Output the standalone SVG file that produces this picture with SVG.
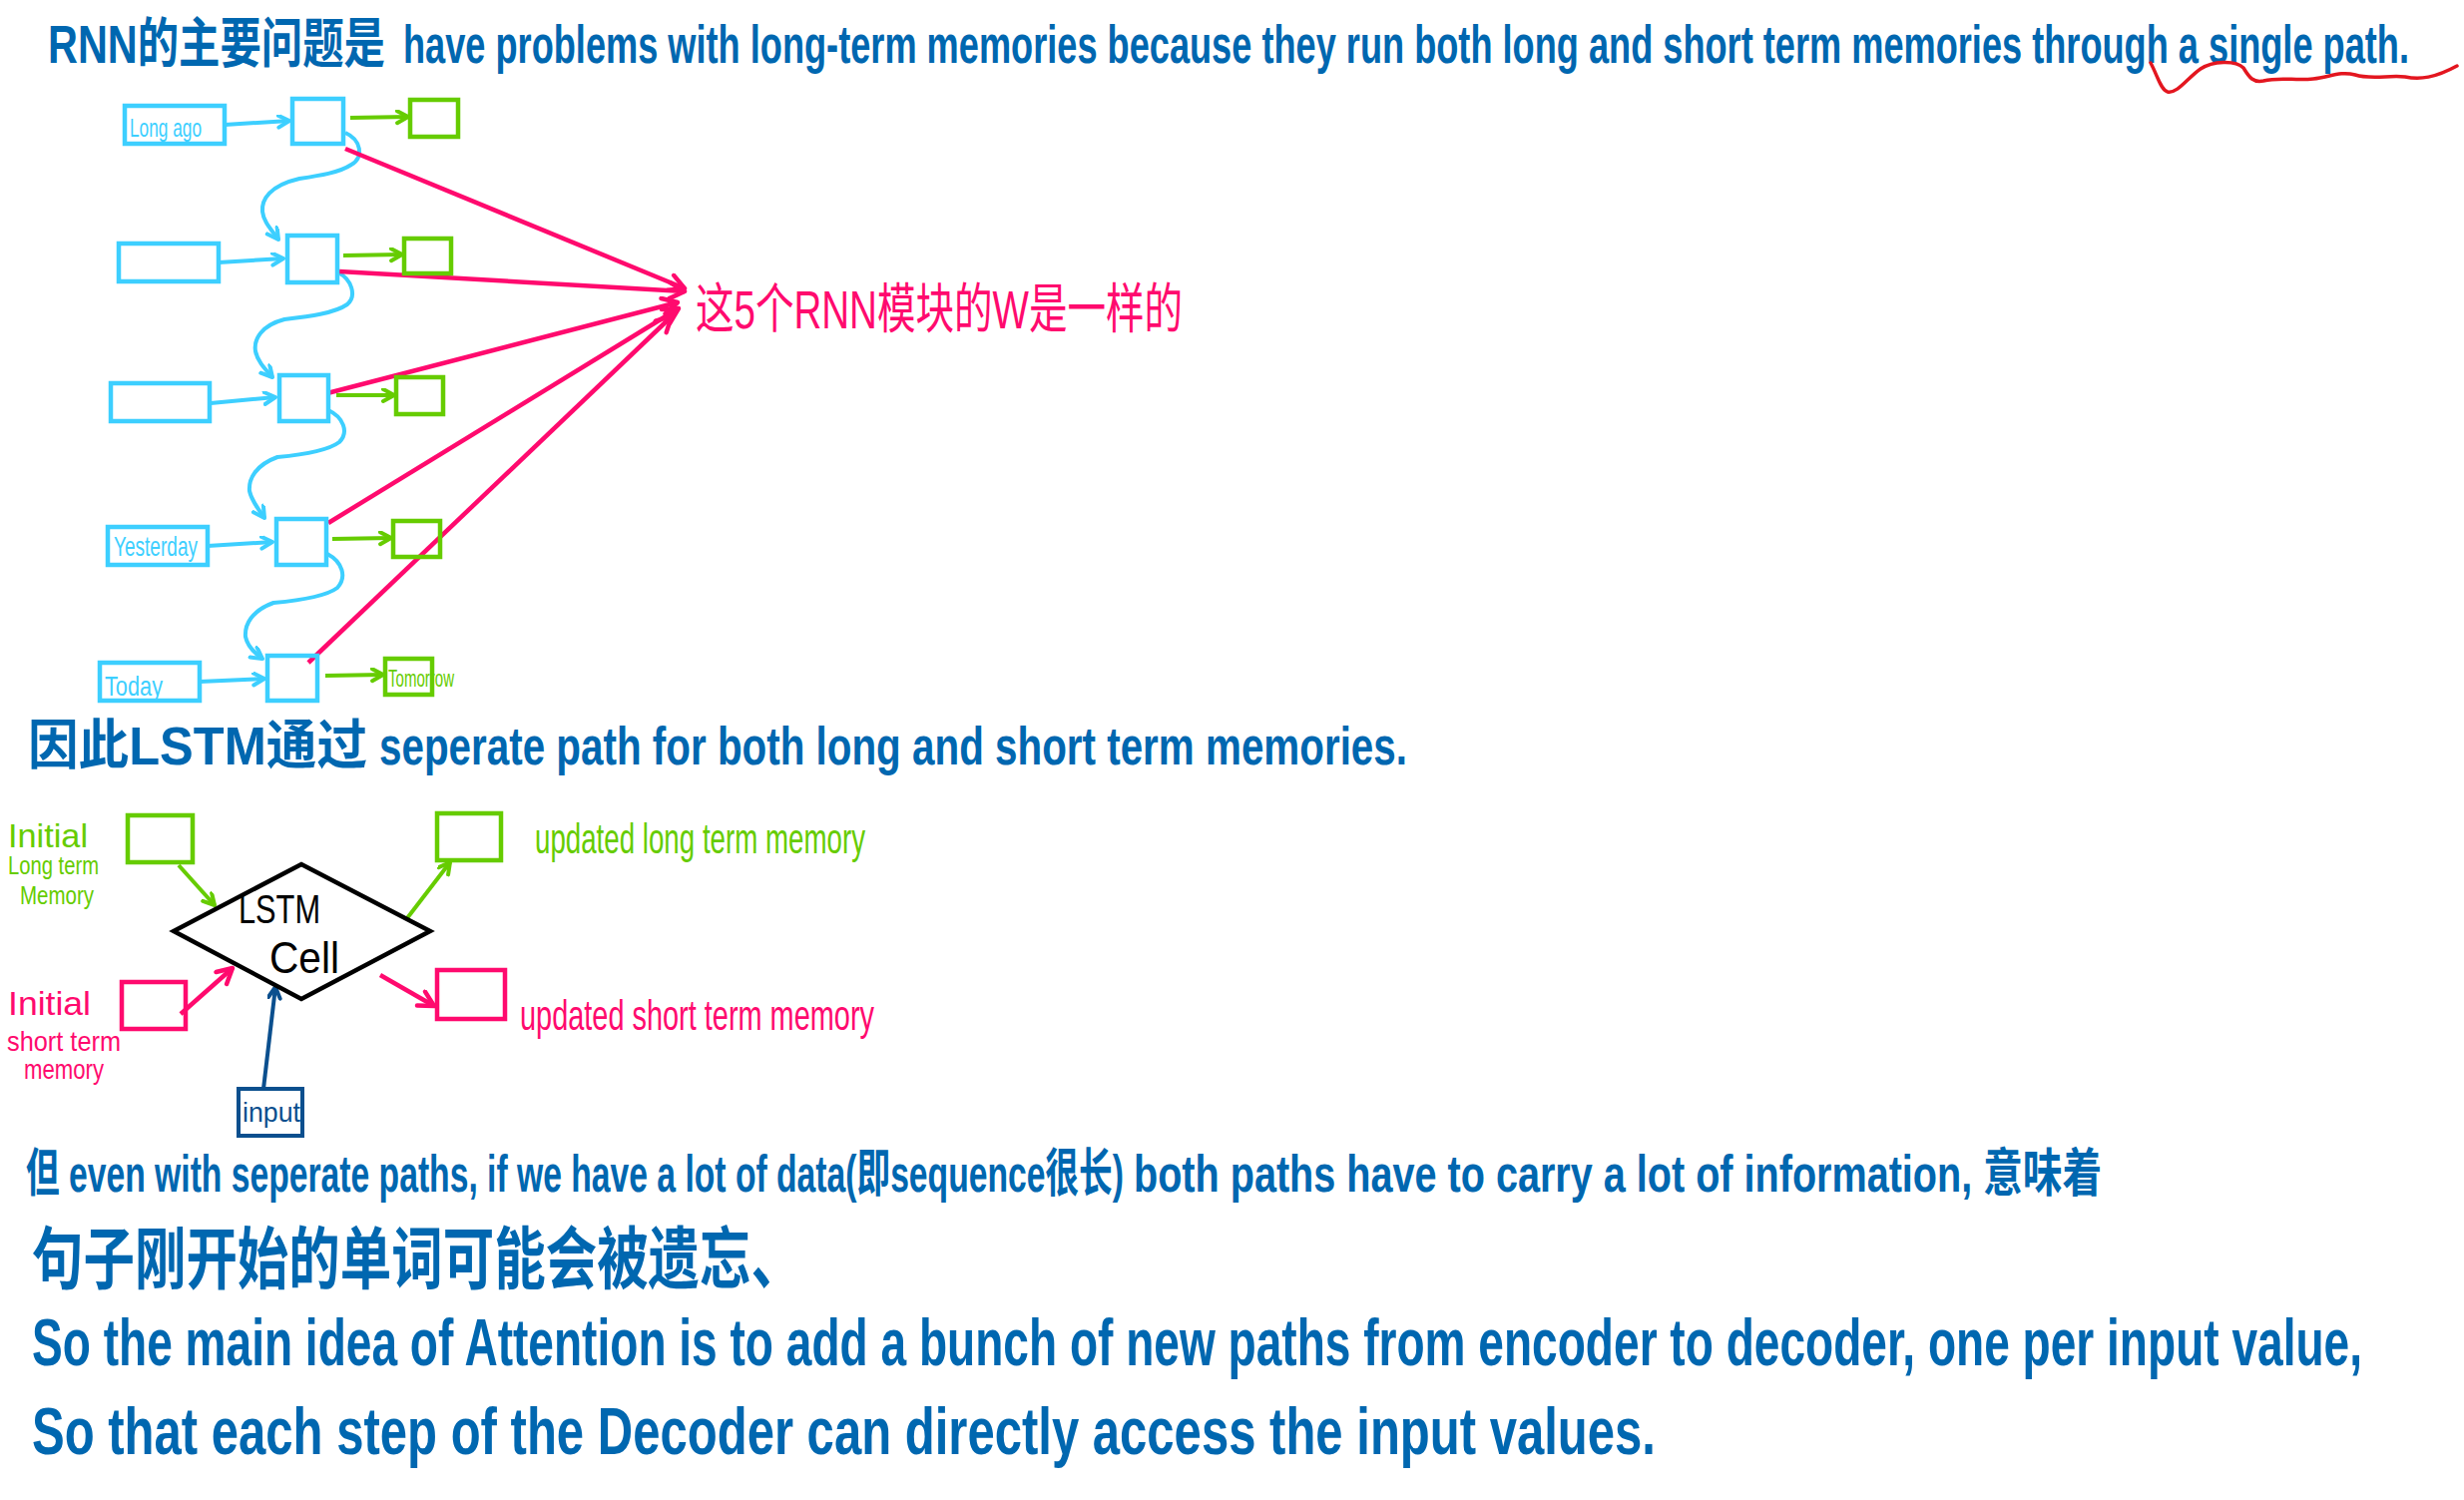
<svg xmlns="http://www.w3.org/2000/svg" width="2469" height="1503" viewBox="0 0 2469 1503">
<style>
.bg{fill:#ffffff}
.t{font-family:"Liberation Sans Narrow","Liberation Sans","Noto Sans CJK SC",sans-serif}
.blue{fill:#0067b0;font-weight:bold}
.pinkT{fill:#ff0a6e}
.greenT{fill:#66cc00}
.cyanT{fill:#3dcfff}
.blk{fill:#000000}
.dbT{fill:#0b4f8e}
.cy{fill:none;stroke:#3dcfff;stroke-width:4.5}
.gr{fill:none;stroke:#66cc00;stroke-width:4.5}
.pk{fill:none;stroke:#ff0a6e;stroke-width:4.5}
.db{fill:none;stroke:#0b4f8e;stroke-width:4}
.dia{fill:none;stroke:#000000;stroke-width:4.5;stroke-linejoin:miter}
.cyl{fill:none;stroke:#3dcfff;stroke-width:4}
.grl{fill:none;stroke:#66cc00;stroke-width:4}
.pkl{fill:none;stroke:#ff0a6e;stroke-width:4.5}
.dbl{fill:none;stroke:#0b4f8e;stroke-width:4}
</style>
<defs>
<marker id="mc" markerUnits="userSpaceOnUse" markerWidth="16" markerHeight="16" refX="13" refY="7" orient="auto"><path d="M2,1 L13,7 L2,13" fill="none" stroke="#3dcfff" stroke-width="4" stroke-linecap="round" stroke-linejoin="round"/></marker>
<marker id="mg" markerUnits="userSpaceOnUse" markerWidth="16" markerHeight="16" refX="13" refY="7" orient="auto"><path d="M2,1 L13,7 L2,13" fill="none" stroke="#66cc00" stroke-width="4" stroke-linecap="round" stroke-linejoin="round"/></marker>
<marker id="mp" markerUnits="userSpaceOnUse" markerWidth="22" markerHeight="22" refX="18" refY="10" orient="auto"><path d="M3,2 L18,10 L3,18" fill="none" stroke="#ff0a6e" stroke-width="4.5" stroke-linecap="round" stroke-linejoin="round"/></marker>
<marker id="md" markerUnits="userSpaceOnUse" markerWidth="16" markerHeight="16" refX="13" refY="7" orient="auto"><path d="M2,1 L13,7 L2,13" fill="none" stroke="#0b4f8e" stroke-width="4" stroke-linecap="round" stroke-linejoin="round"/></marker>
</defs>
<rect class="bg" x="0" y="0" width="2469" height="1503"/>

<g id="text-lines">
<text class="t blue" x="48" y="63" font-size="54" textLength="338" lengthAdjust="spacingAndGlyphs">RNN的主要问题是</text>
<text class="t blue" x="404" y="63" font-size="54" textLength="2010" lengthAdjust="spacingAndGlyphs">have problems with long-term memories because they run both long and short term memories through a single path.</text>
<path d="M2155,63 C2162,76 2165,90 2172,92 C2182,94 2192,78 2205,69 C2217,61 2240,60 2248,68 C2254,78 2258,83 2268,81 C2285,77 2300,81 2318,79 C2335,77 2345,71 2360,75 C2375,80 2395,75 2410,77 C2425,80 2440,78 2462,66" fill="none" stroke="#e3161f" stroke-width="3.5" stroke-linecap="round"/>

<text class="t blue" x="28" y="766" font-size="54" textLength="340" lengthAdjust="spacingAndGlyphs">因此LSTM通过</text>
<text class="t blue" x="380" y="766" font-size="54" textLength="1030" lengthAdjust="spacingAndGlyphs">seperate path for both long and short term memories.</text>

<text class="t blue" x="26" y="1194" font-size="52" textLength="1100" lengthAdjust="spacingAndGlyphs">但 even with seperate paths, if we have a lot of data(即sequence很长)</text>
<text class="t blue" x="1136" y="1194" font-size="52" textLength="970" lengthAdjust="spacingAndGlyphs">both paths have to carry a lot of information, 意味着</text>

<text class="t blue" x="32" y="1286" font-size="68" textLength="772" lengthAdjust="spacingAndGlyphs">句子刚开始的单词可能会被遗忘、</text>

<text class="t blue" x="32" y="1368" font-size="66" textLength="2335" lengthAdjust="spacingAndGlyphs">So the main idea of Attention is to add a bunch of new paths from encoder to decoder, one per input value,</text>

<text class="t blue" x="32" y="1457" font-size="66" textLength="1627" lengthAdjust="spacingAndGlyphs">So that each step of the Decoder can directly access the input values.</text>
</g>

<g id="connectors">
<line class="cyl" x1="225" y1="125" x2="290" y2="121" marker-end="url(#mc)"/>
<line class="cyl" x1="219" y1="263" x2="284" y2="259" marker-end="url(#mc)"/>
<line class="cyl" x1="211" y1="404" x2="276" y2="398" marker-end="url(#mc)"/>
<line class="cyl" x1="208" y1="547" x2="273" y2="543" marker-end="url(#mc)"/>
<line class="cyl" x1="200" y1="683" x2="265" y2="680" marker-end="url(#mc)"/>
<path class="cyl" d="M346,133 C362,140 365,158 352,165 C340,173 320,176 300,179 C270,186 262,200 263,212 C264,222 272,230 279,240" marker-end="url(#mc)"/>
<path class="cyl" d="M339,273 C352,280 358,296 348,305 C335,314 310,317 285,320 C262,326 254,340 256,352 C258,362 266,370 273,378" marker-end="url(#mc)"/>
<path class="cyl" d="M329,411 C344,418 350,433 340,443 C328,452 300,456 278,458 C256,466 249,480 250,492 C252,502 259,510 265,519" marker-end="url(#mc)"/>
<path class="cyl" d="M328,555 C343,563 348,578 338,589 C326,598 296,602 274,604 C252,612 245,626 246,638 C248,648 256,655 263,660" marker-end="url(#mc)"/>
<line class="grl" x1="351" y1="118" x2="409" y2="117" marker-end="url(#mg)"/>
<line class="grl" x1="344" y1="256" x2="403" y2="255" marker-end="url(#mg)"/>
<line class="grl" x1="337" y1="396" x2="395" y2="396" marker-end="url(#mg)"/>
<line class="grl" x1="333" y1="540" x2="392" y2="539" marker-end="url(#mg)"/>
<line class="grl" x1="326" y1="677" x2="384" y2="676" marker-end="url(#mg)"/>
<line class="pkl" x1="346" y1="149" x2="686" y2="289" marker-end="url(#mp)"/>
<line class="pkl" x1="340" y1="272" x2="686" y2="292" marker-end="url(#mp)"/>
<line class="pkl" x1="328" y1="394" x2="679" y2="303" marker-end="url(#mp)"/>
<line class="pkl" x1="329" y1="524" x2="680" y2="309" marker-end="url(#mp)"/>
<line class="pkl" x1="309" y1="664" x2="673" y2="317" marker-end="url(#mp)"/>
<line class="grl" x1="179" y1="867" x2="215" y2="907" marker-end="url(#mg)"/>
<line class="grl" x1="408" y1="920" x2="451" y2="864" marker-end="url(#mg)"/>
<line class="pkl" x1="181" y1="1016" x2="233" y2="970" marker-end="url(#mp)"/>
<line class="pkl" x1="381" y1="977" x2="435" y2="1008" marker-end="url(#mp)"/>
<line class="dbl" x1="264" y1="1091" x2="276" y2="989" marker-end="url(#md)"/>
</g>

<g id="rnn-in-1"><rect class="cy" x="125" y="106" width="100" height="38"/><text class="t cyanT" x="130" y="137" font-size="26" textLength="72" lengthAdjust="spacingAndGlyphs">Long ago</text></g>
<g id="rnn-in-2"><rect class="cy" x="119" y="244" width="100" height="38"/></g>
<g id="rnn-in-3"><rect class="cy" x="111" y="384" width="99" height="38"/></g>
<g id="rnn-in-4"><rect class="cy" x="108" y="528" width="100" height="38"/><text class="t cyanT" x="114" y="557" font-size="28" textLength="84" lengthAdjust="spacingAndGlyphs">Yesterday</text></g>
<g id="rnn-in-5"><rect class="cy" x="100" y="664" width="100" height="38"/><text class="t cyanT" x="105" y="697" font-size="28" textLength="58" lengthAdjust="spacingAndGlyphs">Today</text></g>

<g id="rnn-h-1"><rect class="cy" x="293" y="99" width="51" height="45"/></g>
<g id="rnn-h-2"><rect class="cy" x="288" y="236" width="50" height="47"/></g>
<g id="rnn-h-3"><rect class="cy" x="280" y="376" width="49" height="46"/></g>
<g id="rnn-h-4"><rect class="cy" x="277" y="520" width="50" height="46"/></g>
<g id="rnn-h-5"><rect class="cy" x="268" y="657" width="50" height="45"/></g>

<g id="rnn-out-1"><rect class="gr" x="411" y="100" width="48" height="37"/></g>
<g id="rnn-out-2"><rect class="gr" x="405" y="239" width="47" height="35"/></g>
<g id="rnn-out-3"><rect class="gr" x="397" y="378" width="47" height="37"/></g>
<g id="rnn-out-4"><rect class="gr" x="394" y="522" width="47" height="36"/></g>
<g id="rnn-out-5"><rect class="gr" x="386" y="660" width="47" height="36"/><text class="t greenT" x="389" y="688" font-size="24" textLength="66" lengthAdjust="spacingAndGlyphs">Tomorrow</text></g>

<g id="shared-w-label"><text class="t pinkT" x="697" y="329" font-size="54" textLength="488" lengthAdjust="spacingAndGlyphs">这5个RNN模块的W是一样的</text></g>

<g id="lstm-cell"><polygon class="dia" points="174,933 302,866 431,933 302,1001"/>
<text class="t blk" x="239" y="925" font-size="40" textLength="82" lengthAdjust="spacingAndGlyphs">LSTM</text>
<text class="t blk" x="270" y="975" font-size="44" textLength="70" lengthAdjust="spacingAndGlyphs">Cell</text></g>

<g id="init-long"><rect class="gr" x="128" y="817" width="65" height="47"/>
<text class="t greenT" x="8" y="849" font-size="34" textLength="80" lengthAdjust="spacingAndGlyphs">Initial</text>
<text class="t greenT" x="8" y="876" font-size="26" textLength="91" lengthAdjust="spacingAndGlyphs">Long term</text>
<text class="t greenT" x="20" y="906" font-size="26" textLength="74" lengthAdjust="spacingAndGlyphs">Memory</text></g>

<g id="init-short"><rect class="pk" x="122" y="984" width="64" height="47"/>
<text class="t pinkT" x="8" y="1017" font-size="34" textLength="83" lengthAdjust="spacingAndGlyphs">Initial</text>
<text class="t pinkT" x="7" y="1053" font-size="28" textLength="114" lengthAdjust="spacingAndGlyphs">short term</text>
<text class="t pinkT" x="24" y="1081" font-size="28" textLength="80" lengthAdjust="spacingAndGlyphs">memory</text></g>

<g id="upd-long"><rect class="gr" x="438" y="815" width="64" height="47"/>
<text class="t greenT" x="536" y="855" font-size="42" textLength="331" lengthAdjust="spacingAndGlyphs">updated long term memory</text></g>

<g id="upd-short"><rect class="pk" x="438" y="972" width="68" height="49"/>
<text class="t pinkT" x="521" y="1032" font-size="42" textLength="355" lengthAdjust="spacingAndGlyphs">updated short term memory</text></g>

<g id="input"><rect class="db" x="239" y="1091" width="64" height="47"/>
<text class="t dbT" x="243" y="1124" font-size="28" textLength="58" lengthAdjust="spacingAndGlyphs">input</text></g>
</svg>
